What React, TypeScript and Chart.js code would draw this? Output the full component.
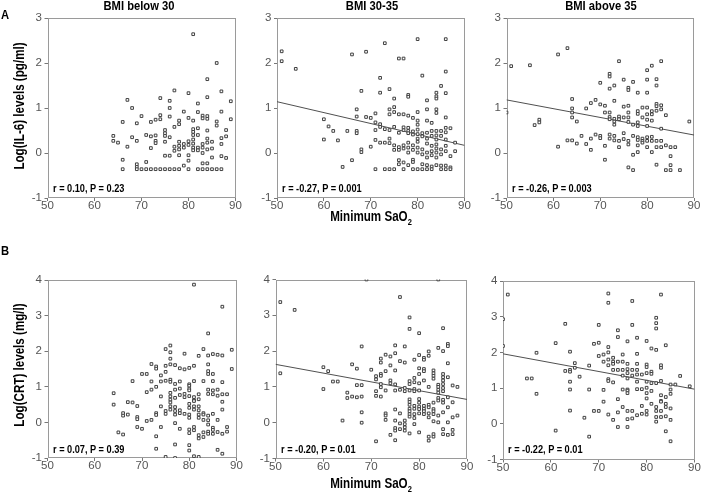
import React, { useEffect, useRef } from "react";
import { Chart, registerables } from "chart.js";

Chart.register(...registerables);

const W = 701;
const H = 502;
const SANS = "'Liberation Sans', Arial, sans-serif";

// ---------- tick labels / texts ----------
const saO2Ticks = [50, 60, 70, 80, 90];
const il6Ticks = [-1, 0, 1, 2, 3];
const crtTicks = [-1, 0, 1, 2, 3, 4];
const panelTitles = ["BMI below 30", "BMI 30-35", "BMI above 35"];
const il6Stats = ["r = 0.10, P = 0.23", "r = -0.27, P = 0.001", "r = -0.26, P = 0.003"];
const crtStats = ["r = 0.07, P = 0.39", "r = -0.20, P = 0.01", "r = -0.22, P = 0.01"];

// ---------- data: [Minimum SaO2, log value] ----------
const il6Below30 = [
  [81,2.64],[86,2.0],[84,1.64],[77,1.39],[80,1.33],[87,1.37],[84,1.24],[67,1.18],[74,1.22],[76,1.16],
  [82,1.10],[89,1.15],[68,1.0],[76,1.0],[79,0.92],[82,0.91],[87,0.92],[70,0.82],[74,0.84],[74,0.75],
  [73,0.74],[72,0.69],[76,0.81],[78,0.72],[78,0.64],[80,0.78],[81,0.72],[83,0.83],[83,0.77],[84,0.82],
  [84,0.76],[86,0.70],[86,0.61],[89,0.75],[66,0.69],[69,0.66],[77,0.58],[81,0.53],[81,0.47],[81,0.40],
  [82,0.55],[82,0.40],[84,0.50],[88,0.51],[64,0.38],[64,0.27],[65,0.23],[68,0.35],[69,0.27],[71,0.40],
  [72,0.37],[73,0.39],[73,0.27],[75,0.51],[75,0.44],[75,0.38],[76,0.35],[75,0.25],[72,0.11],[67,0.14],
  [73,0.22],[79,0.20],[79,0.12],[78,0.25],[78,0.16],[78,0.08],[77,0.14],[77,0.05],[80,0.26],[80,0.18],
  [81,0.30],[81,0.21],[81,0.12],[81,0.06],[82,0.12],[82,0.06],[83,0.20],[83,0.12],[84,0.32],[84,0.23],
  [84,0.08],[85,0.25],[85,0.10],[87,0.33],[87,0.20],[88,0.37],[87,-0.07],[88,-0.11],[66,-0.15],[71,-0.2],
  [69,-0.25],[75,-0.06],[76,-0.06],[78,-0.05],[80,-0.17],[79,-0.28],[83,-0.23],[84,-0.23],[85,-0.10],[80,-0.05],
  [83,0.0],[69,-0.31],
  [66,-0.36],[69,-0.36],[70,-0.36],[71,-0.36],[72,-0.36],[73,-0.36],[74,-0.36],[75,-0.36],[76,-0.36],
  [77,-0.36],[78,-0.36],[80,-0.36],[82,-0.36],[83,-0.36],[84,-0.36],[85,-0.36],[86,-0.36],[87,-0.36],
];

const il6Bmi3035 = [
  [51,2.26],[51,2.04],[54,1.87],[66,2.19],[69,2.25],[73,2.44],[80,2.53],[86,2.53],[76,2.1],[77,2.1],
  [86,1.81],[81,1.72],[72,1.67],[68,1.38],[72,1.34],[74,1.42],[75,1.21],[78,1.29],[78,1.25],[84,1.34],
  [84,1.26],[84,1.21],[82,1.17],[86,1.33],[85,1.49],[67,0.97],[67,0.81],[71,0.88],[74,0.97],[75,0.91],
  [74,0.86],[75,1.02],[76,0.86],[77,0.86],[78,0.83],[79,0.78],[80,0.91],[80,0.72],[80,0.63],[82,0.97],
  [82,0.72],[84,0.97],[84,0.89],[86,0.79],[60,0.75],[61,0.59],[62,0.49],[65,0.49],[67,0.49],[67,0.44],
  [69,0.8],[70,0.78],[71,0.68],[72,0.64],[72,0.58],[71,0.51],[73,0.53],[74,0.51],[75,0.58],[76,0.45],
  [77,0.51],[77,0.57],[78,0.56],[78,0.49],[78,0.44],[79,0.48],[79,0.41],[80,0.52],[80,0.42],[80,0.32],
  [81,0.44],[81,0.37],[82,0.45],[82,0.32],[82,0.21],[83,0.67],[83,0.49],[83,0.38],[84,0.49],[84,0.39],
  [84,0.3],[84,0.19],[84,0.1],[85,0.49],[85,0.38],[86,0.56],[86,0.46],[86,0.3],[87,0.55],[88,0.23],
  [60,0.3],[63,0.28],[70,0.14],[68,0.08],[68,0.02],[71,0.29],[72,0.23],[73,0.23],[74,0.32],[74,0.22],
  [75,0.17],[75,0.07],[76,0.13],[76,0.07],[77,0.17],[77,0.1],[78,0.23],[78,0.12],[78,0.01],[79,0.17],
  [79,0.07],[80,0.25],[80,0.12],[80,0.01],[81,0.08],[81,-0.03],[82,0.01],[82,-0.1],[83,0.16],[83,0.04],
  [83,-0.05],[84,0.01],[84,-0.1],[85,0.08],[85,-0.03],[86,0.16],[86,0.04],[87,-0.07],[88,0.04],[66,-0.16],
  [64,-0.31],[76,-0.16],[76,-0.25],[77,-0.21],[79,-0.15],[79,-0.2],[78,-0.27],[81,-0.25],[82,-0.27],[83,-0.3],
  [84,-0.27],[85,-0.28],[86,-0.28],[87,-0.32],
  [71,-0.36],[73,-0.36],[74,-0.36],[75,-0.36],[77,-0.36],[79,-0.36],[80,-0.36],[81,-0.36],[82,-0.36],
  [83,-0.36],[85,-0.36],[86,-0.36],[87,-0.36],
];

const il6Above35 = [
  [51,1.93],[55,1.95],[61,2.19],[63,2.33],[74,2.04],[83,2.04],[81,1.94],[80,1.84],[72,1.76],[72,1.7],
  [70,1.56],[73,1.5],[72,1.43],[75,1.63],[76,1.45],[76,1.4],[77,1.58],[78,1.34],[80,1.63],[80,1.34],
  [82,1.64],[82,1.5],[50,0.9],[56,0.62],[57,0.74],[57,0.68],[64,1.2],[64,0.99],[64,0.9],[64,0.79],
  [65,0.7],[67,0.99],[68,1.11],[69,1.18],[70,1.08],[71,0.9],[72,0.9],[72,0.8],[72,0.75],[73,0.76],
  [73,0.7],[73,0.63],[71,1.05],[73,1.16],[74,0.81],[74,0.75],[75,1.03],[75,0.79],[76,1.05],[76,0.9],
  [76,0.79],[76,0.69],[77,0.63],[78,0.93],[78,0.87],[78,0.68],[78,0.6],[79,1.01],[79,0.79],[80,1.01],
  [80,0.86],[80,0.74],[80,0.6],[81,0.93],[81,0.86],[81,0.72],[82,1.09],[82,1.04],[82,0.94],[83,1.06],
  [83,0.97],[83,0.54],[84,0.84],[89,0.7],[61,0.14],[63,0.28],[64,0.28],[65,0.21],[66,0.38],[67,0.2],
  [68,0.32],[68,0.07],[69,0.41],[70,0.38],[70,0.33],[71,0.16],[71,-0.15],[72,0.41],[72,0.32],[73,0.38],
  [73,0.28],[74,0.27],[74,0.13],[75,0.44],[75,0.31],[76,0.27],[76,0.19],[77,0.38],[78,0.35],[78,0.29],
  [78,0.17],[78,0.02],[77,-0.04],[79,0.32],[79,0.27],[79,0.23],[80,0.35],[80,0.27],[80,0.13],[81,0.36],
  [81,0.27],[81,0.02],[82,0.27],[82,0.13],[83,0.27],[83,0.13],[84,0.17],[85,0.13],[86,0.13],[85,-0.07],
  [85,-0.27],[85,-0.38],[84,-0.38],[87,-0.38],[82,-0.26],[76,-0.32],[77,-0.38],
];

const crtBelow30 = [
  [81,3.87],[87,3.25],[84,2.5],[75,2.06],[76,2.16],[76,1.97],[79,1.93],[83,2.06],[85,1.92],[86,1.9],
  [89,2.04],[89,1.5],[87,1.88],[84,1.88],[84,1.63],[82,1.87],[76,1.79],[76,1.63],[73,1.57],[73,1.51],
  [72,1.64],[75,1.59],[75,1.42],[77,1.61],[78,1.52],[79,1.49],[80,1.53],[81,1.59],[84,1.44],[84,1.36],
  [85,1.36],[70,1.36],[71,1.36],[74,1.32],[68,1.16],[72,1.15],[74,1.15],[75,1.17],[76,1.2],[76,1.14],
  [77,1.08],[78,1.15],[80,1.07],[80,1.03],[81,1.16],[83,1.16],[85,1.16],[87,1.13],[64,0.82],[64,0.5],
  [67,0.57],[68,0.56],[69,0.46],[71,0.85],[72,0.92],[73,1.0],[74,0.73],[76,0.83],[76,0.73],[76,0.64],
  [76,0.56],[77,0.92],[77,0.69],[78,0.95],[78,0.77],[79,0.8],[79,0.71],[80,0.95],[80,0.9],[80,0.74],
  [81,0.71],[81,0.62],[82,0.79],[82,0.65],[84,0.92],[84,0.8],[85,0.9],[85,0.79],[86,0.92],[86,0.75],
  [87,0.79],[88,0.79],[87,0.58],[87,0.36],[66,0.26],[66,0.19],[67,0.22],[69,0.15],[69,0.09],[69,-0.13],
  [70,-0.18],[71,0.04],[72,0.07],[73,0.26],[73,0.21],[74,0.45],[75,0.32],[75,0.24],[76,0.45],[76,0.36],
  [77,0.43],[77,0.32],[77,0.22],[78,0.34],[78,0.26],[79,0.24],[80,0.52],[80,0.41],[80,0.22],[80,0.13],
  [81,0.6],[81,0.45],[81,0.36],[82,0.45],[82,0.34],[82,0.22],[82,0.13],[83,0.26],[83,0.22],[83,0.07],
  [84,0.19],[84,0.06],[84,-0.06],[85,0.24],[85,-0.15],[85,-0.21],[86,0.07],[86,-0.27],[88,-0.13],[88,-0.26],
  [65,-0.28],[66,-0.34],[74,-0.13],[73,-0.39],[77,-0.02],[78,-0.18],[80,-0.2],[80,-0.3],[81,-0.13],[81,-0.22],
  [82,-0.36],[82,-0.45],[83,-0.28],[83,-0.41],[84,-0.26],[84,-0.32],[85,-0.32],[87,-0.32],[77,-0.62],[73,-0.74],
  [80,-0.64],[80,-0.79],[86,-0.77],[87,-0.88],[75,-0.97],[77,-1.0],[81,-0.95],[82,-0.97],
];

const crtBmi3035 = [
  [69,4.0],[84,4.0],[51,3.37],[54,3.15],[76,3.51],[78,2.94],[78,2.62],[80,2.5],[85,2.64],[75,2.16],
  [75,1.94],[77,2.13],[68,2.13],[73,1.9],[80,1.89],[82,1.99],[82,1.87],[84,2.09],[86,2.2],[86,2.14],
  [85,2.0],[81,1.81],[81,1.76],[79,1.76],[76,1.72],[77,1.68],[74,1.85],[74,1.6],[72,1.79],[72,1.68],
  [66,1.63],[67,1.51],[60,1.55],[61,1.44],[62,1.15],[63,1.15],[60,0.94],[51,1.38],[70,1.48],[71,1.3],
  [71,1.21],[72,1.36],[72,1.31],[72,1.08],[73,1.44],[74,1.18],[74,1.1],[75,1.46],[76,0.92],[78,1.16],
  [78,1.08],[79,1.25],[79,1.13],[80,1.52],[80,1.36],[80,1.1],[80,0.9],[81,1.5],[81,1.44],[81,1.18],
  [82,1.0],[83,1.46],[83,1.38],[83,1.31],[83,1.23],[84,1.06],[84,0.92],[85,1.36],[85,1.27],[85,1.18],
  [85,1.08],[86,1.66],[86,1.27],[87,1.04],[88,1.0],[65,0.84],[66,0.73],[67,0.71],[68,0.73],[67,1.05],
  [68,1.05],[65,0.69],[71,0.88],[71,0.75],[72,0.99],[72,0.73],[73,0.9],[75,1.07],[75,0.9],[77,0.97],
  [77,0.88],[78,0.9],[78,0.65],[78,0.58],[78,0.5],[79,0.94],[79,0.88],[79,0.47],[79,0.39],[80,0.66],
  [80,0.56],[80,0.45],[81,0.47],[81,0.39],[81,0.32],[82,0.5],[82,0.43],[83,0.56],[83,0.38],[83,0.32],
  [84,1.0],[84,0.84],[84,0.69],[84,0.62],[85,0.97],[85,0.88],[85,0.64],[85,0.56],[86,0.71],[86,0.43],
  [87,0.57],[87,0.15],[88,0.2],[68,0.29],[68,0.0],[64,0.06],[73,0.26],[73,0.2],[73,0.08],[75,0.37],
  [75,0.06],[76,0.26],[76,-0.02],[77,0.06],[77,-0.04],[78,0.39],[78,0.32],[78,0.24],[78,0.17],[79,0.24],
  [79,0.13],[79,-0.04],[80,0.38],[80,0.26],[80,-0.27],[81,0.24],[82,0.26],[82,0.15],[82,-0.5],[83,0.24],
  [83,0.04],[83,-0.32],[83,-0.39],[84,0.2],[84,0.01],[85,0.29],[85,-0.18],[86,0.01],[86,-0.34],[87,-0.2],
  [75,-0.15],[75,-0.22],[76,-0.18],[77,-0.13],[77,-0.22],[74,-0.34],[75,-0.49],[71,-0.52],[78,-0.3],[82,-0.39],
  [85,-0.32],[87,-0.32],
];

const crtAbove35 = [
  [51,3.62],[83,3.62],[72,3.65],[72,3.39],[77,3.44],[50,2.93],[50,2.18],[63,2.8],[70,2.77],[77,2.77],
  [82,2.97],[82,2.82],[82,2.67],[74,2.62],[74,2.43],[61,2.26],[69,2.24],[70,2.27],[76,2.31],[78,2.41],
  [80,2.32],[81,2.11],[82,2.07],[84,2.2],[57,1.99],[64,2.02],[72,2.15],[70,1.9],[71,1.94],[72,2.0],
  [72,1.8],[73,1.85],[73,1.74],[75,1.94],[75,1.74],[76,1.68],[76,1.53],[78,1.96],[78,1.68],[78,1.51],
  [80,1.66],[80,1.59],[81,1.46],[81,1.4],[83,1.64],[83,1.57],[65,1.7],[65,1.57],[64,1.51],[64,1.46],
  [63,1.48],[66,1.32],[68,1.63],[71,1.74],[72,1.64],[72,1.25],[72,1.2],[73,1.68],[73,1.51],[74,1.74],
  [74,1.51],[75,1.51],[75,1.35],[76,1.42],[76,1.27],[77,1.51],[77,1.35],[78,1.38],[78,1.18],[79,1.38],
  [80,1.42],[80,1.18],[81,1.14],[82,1.14],[83,1.2],[85,1.1],[87,1.34],[86,1.1],[89,1.05],[55,1.27],
  [56,1.27],[57,0.84],[64,1.18],[64,0.96],[68,0.96],[71,0.95],[73,1.16],[75,0.96],[76,0.96],[76,0.93],
  [76,0.86],[78,0.97],[80,1.01],[80,0.86],[80,0.71],[79,0.97],[81,0.92],[83,0.8],[83,0.64],[85,0.96],
  [85,0.84],[84,0.75],[84,0.56],[64,0.37],[69,0.36],[70,0.36],[67,0.17],[61,-0.19],[68,-0.36],[71,0.62],
  [72,0.26],[73,0.11],[74,0.69],[74,0.32],[74,-0.09],[75,0.47],[76,-0.09],[76,0.36],[76,0.13],[77,0.36],
  [77,0.15],[78,0.24],[79,0.5],[79,0.28],[80,0.36],[80,0.26],[81,0.56],[82,0.47],[82,0.36],[82,0.06],
  [83,0.62],[83,0.36],[83,0.19],[84,0.47],[84,0.21],[85,0.43],[85,0.11],[84,-0.21],[85,-0.49],[82,0.19],
];

// fitted regression lines (value at SaO2 = 50 and 90)
const il6Fit3035 = [[50, 1.14], [90, 0.17]];
const il6FitAbove35 = [[50, 1.18], [90, 0.40]];
const crtFit3035 = [[50, 1.63], [90, 0.65]];
const crtFitAbove35 = [[50, 1.96], [90, 0.97]];

// ---------- layout (plot-area boxes in page pixels) ----------
const panels = [
  { pts: il6Below30, fit: null, yTicks: il6Ticks, stat: il6Stats[0], box: { l: 47.5, r: 235.5, t: 18, b: 198 } },
  { pts: il6Bmi3035, fit: il6Fit3035, yTicks: il6Ticks, stat: il6Stats[1], box: { l: 277, r: 464.5, t: 18, b: 198 } },
  { pts: il6Above35, fit: il6FitAbove35, yTicks: il6Ticks, stat: il6Stats[2], box: { l: 506.5, r: 694, t: 18, b: 198 } },
  { pts: crtBelow30, fit: null, yTicks: crtTicks, stat: crtStats[0], box: { l: 47.5, r: 236.5, t: 280, b: 458 } },
  { pts: crtBmi3035, fit: crtFit3035, yTicks: crtTicks, stat: crtStats[1], box: { l: 275.5, r: 467, t: 279.5, b: 458.5 } },
  { pts: crtAbove35, fit: crtFitAbove35, yTicks: crtTicks, stat: crtStats[2], box: { l: 503, r: 694.5, t: 281, b: 459.5 } },
];

const YW = 30;
const XH = 20;

const framePlugin = {
  id: "frame",
  beforeDatasetsDraw(chart: any) {
    const { ctx, chartArea: a } = chart;
    ctx.save();
    ctx.strokeStyle = "#9a9a9a";
    ctx.lineWidth = 1;
    const l = Math.round(a.left) + 0.5;
    const t = Math.round(a.top) + 0.5;
    const r = Math.round(a.right) - 0.5;
    const b = Math.round(a.bottom) - 0.5;
    ctx.strokeRect(l, t, r - l, b - t);
    ctx.restore();
  },
};

function buildChart(canvas: HTMLCanvasElement, p: any) {
  const datasets: any[] = [
    {
      type: "scatter",
      data: p.pts.map(([x, y]: number[]) => ({ x, y })),
      pointStyle: "rect",
      pointRadius: 1.9,
      borderColor: "#404040",
      backgroundColor: "#ffffff",
      borderWidth: 1,
      showLine: false,
    },
  ];
  if (p.fit) {
    datasets.push({
      type: "line",
      data: p.fit.map(([x, y]: number[]) => ({ x, y })),
      borderColor: "#505050",
      borderWidth: 1,
      pointRadius: 0,
      fill: false,
      tension: 0,
    });
  }
  const tickFont = { family: SANS, size: 11.5 };
  const yMin = p.yTicks[0];
  const yMax = p.yTicks[p.yTicks.length - 1];
  return new Chart(canvas, {
    type: "scatter",
    data: { datasets },
    options: {
      responsive: false,
      animation: false,
      devicePixelRatio: 1,
      layout: {
        padding: {
          left: p.box.l - YW,
          top: p.box.t,
          right: W - p.box.r,
          bottom: H - p.box.b - XH,
        },
      },
      plugins: { legend: { display: false }, tooltip: { enabled: false } },
      scales: {
        x: {
          type: "linear",
          min: saO2Ticks[0],
          max: saO2Ticks[saO2Ticks.length - 1],
          afterBuildTicks: (s: any) => {
            s.ticks = saO2Ticks.map((v) => ({ value: v }));
          },
          afterFit: (s: any) => {
            s.height = XH;
            s.paddingLeft = 0;
            s.paddingRight = 0;
          },
          grid: { drawOnChartArea: false, drawTicks: true, tickLength: 3, color: "#777" },
          border: { display: false },
          ticks: { font: tickFont, color: "#555", padding: -2, maxRotation: 0, callback: (v: any) => String(v) },
        },
        y: {
          type: "linear",
          min: yMin,
          max: yMax,
          afterBuildTicks: (s: any) => {
            s.ticks = p.yTicks.map((v: number) => ({ value: v }));
          },
          afterFit: (s: any) => {
            s.width = YW;
            s.paddingTop = 0;
            s.paddingBottom = 0;
          },
          grid: { drawOnChartArea: false, drawTicks: true, tickLength: 3, color: "#777" },
          border: { display: false },
          ticks: { font: tickFont, color: "#555", padding: 2.5, callback: (v: any) => String(v) },
        },
      },
    } as any,
    plugins: [framePlugin],
  });
}

const bold = {
  position: "absolute" as const,
  fontFamily: SANS,
  fontWeight: "bold" as const,
  color: "#000",
  whiteSpace: "nowrap" as const,
  lineHeight: 1,
};

function Centered({ x, y, size, children, rotate }: any) {
  return (
    <div
      style={{
        ...bold,
        left: x,
        top: y,
        fontSize: size,
        transform: `translate(-50%, -50%)${rotate ? " rotate(-90deg)" : ""} scaleX(0.83)`,
      }}
    >
      {children}
    </div>
  );
}

export default function App() {
  const refs = useRef<(HTMLCanvasElement | null)[]>([]);
  useEffect(() => {
    const charts = panels.map((p, i) => buildChart(refs.current[i] as HTMLCanvasElement, p));
    return () => charts.forEach((c) => c.destroy());
  }, []);

  const titleX = [138.5, 372, 600.5];
  return (
    <div style={{ position: "absolute", left: 0, top: 0, width: W, height: H, background: "#fff", overflow: "hidden" }}>
      {panels.map((_, i) => (
        <canvas
          key={i}
          ref={(el) => {
            refs.current[i] = el;
          }}
          width={W}
          height={H}
          style={{ position: "absolute", left: 0, top: 0, width: W, height: H }}
        />
      ))}
      <Centered x={5} y={15} size={13.5}>A</Centered>
      <Centered x={5} y={251} size={13.5}>B</Centered>
      {panelTitles.map((t, i) => (
        <Centered key={t} x={titleX[i]} y={5.5} size={13.5}>
          {t}
        </Centered>
      ))}
      <Centered x={19} y={106} size={14} rotate>
        Log(IL-6) levels (pg/ml)
      </Centered>
      <Centered x={19} y={365} size={14} rotate>
        Log(CRT) levels (mg/l)
      </Centered>
      <Centered x={371} y={218} size={14}>
        Minimum SaO<sub style={{ fontSize: 9, verticalAlign: "-4px" }}>2</sub>
      </Centered>
      <Centered x={371} y={485} size={14}>
        Minimum SaO<sub style={{ fontSize: 9, verticalAlign: "-4px" }}>2</sub>
      </Centered>
      {panels.map((p, i) => (
        <div
          key={"s" + i}
          style={{
            ...bold,
            left: p.box.l + 5,
            top: i < 3 ? 189 : 450,
            fontSize: 11.5,
            transformOrigin: "0 50%",
            transform: "translateY(-50%) scaleX(0.8)",
          }}
        >
          {p.stat}
        </div>
      ))}
    </div>
  );
}
